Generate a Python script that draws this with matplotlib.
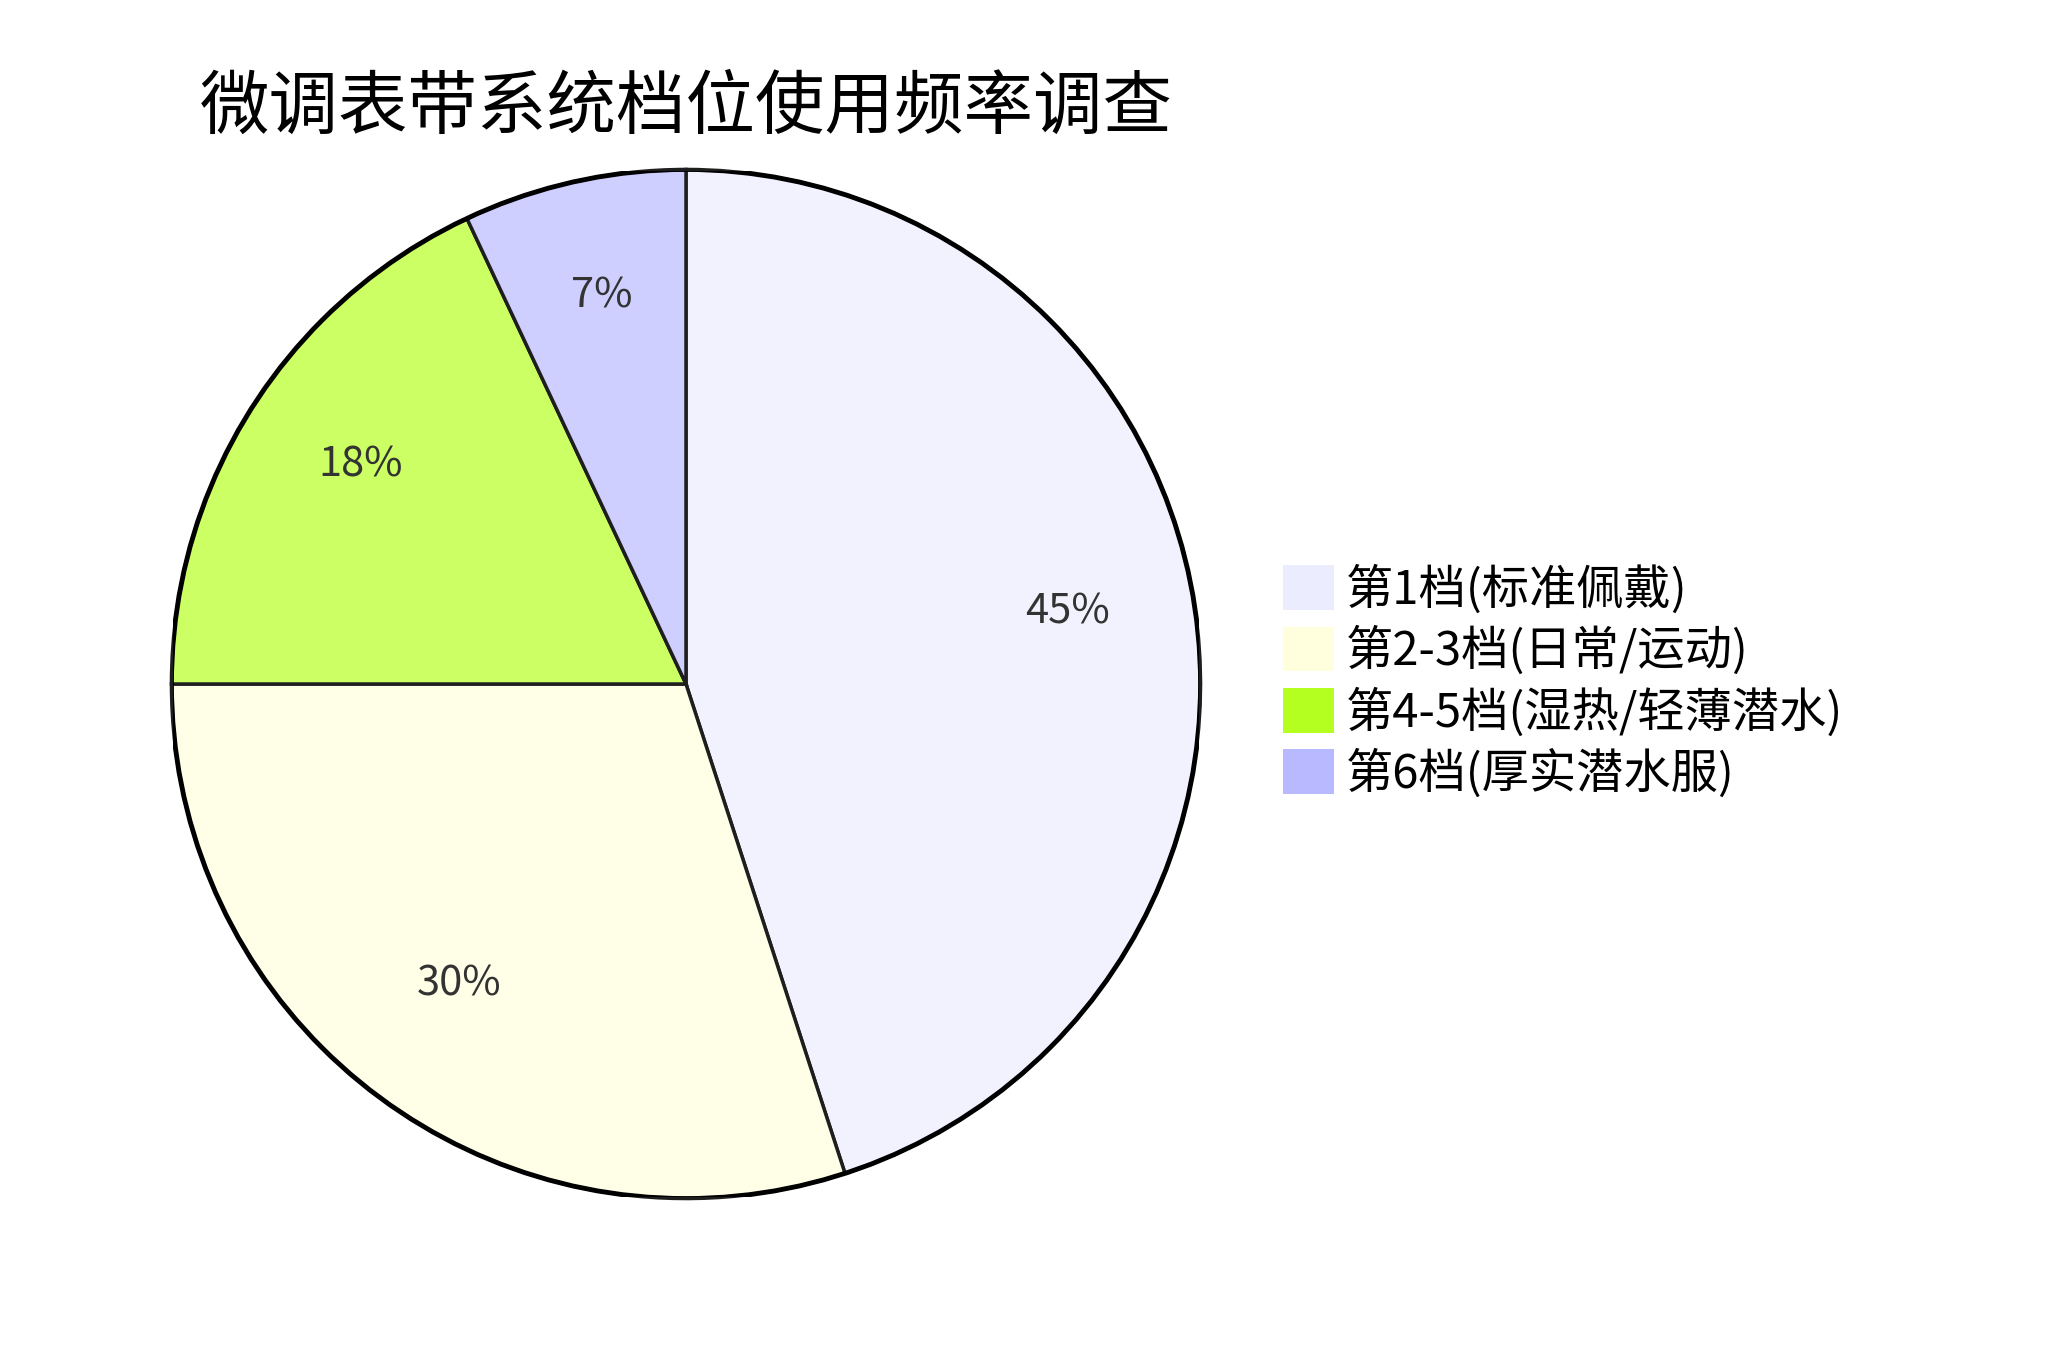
import matplotlib.pyplot as plt
from matplotlib.patches import Patch, Circle

plt.rcParams['font.family'] = ['Noto Sans CJK SC', 'DejaVu Sans']

# 数据
title = "微调表带系统档位使用频率调查"
labels = ["第1档(标准佩戴)", "第2-3档(日常/运动)", "第4-5档(湿热/轻薄潜水)", "第6档(厚实潜水服)"]
values = [45, 30, 18, 7]
colors = ["#ECECFF", "#FFFFDE", "#B5FF20", "#B9B9FF"]


def blend(c, a=0.7):
    # 扇形带透明度，叠在白底上
    r, g, b = (int(c[i:i + 2], 16) for i in (1, 3, 5))
    return tuple((a * v + (1 - a) * 255) / 255 for v in (r, g, b))


fig = plt.figure(figsize=(20.48, 13.71), dpi=100)
ax = fig.add_axes([173 / 2048, 174 / 1371, 1026 / 2048, 1026 / 1371])

wedges, texts, autotexts = ax.pie(
    values, colors=[blend(c) for c in colors], startangle=90, counterclock=False,
    autopct='%.0f%%', pctdistance=0.75,
    wedgeprops=dict(edgecolor='#1e1e1e', linewidth=2.5),
    textprops=dict(fontsize=30, color='#333333'))
for t in autotexts:
    x, y = t.get_position()
    t.set_position((x, y + 0.023))
ax.add_patch(Circle((0, 0), 1.0, fill=False, edgecolor='black', linewidth=3.5))
ax.set_xlim(-0.997, 0.997)
ax.set_ylim(-0.997, 0.997)
ax.set_aspect('equal')
ax.axis('off')

fig.text(686 / 2048, 1 - 108 / 1371, title, fontsize=50, ha='center', va='center', color='black')

handles = [Patch(facecolor=c, edgecolor='none') for c in colors]
fig.legend(handles, labels, loc='center left', bbox_to_anchor=(1283 / 2048, 0.5025),
           frameon=False, fontsize=34, handlelength=1.08, handleheight=1.08,
           handletextpad=0.25, labelspacing=0.25, borderpad=0, borderaxespad=0)

fig.savefig('out.png', dpi=100)
